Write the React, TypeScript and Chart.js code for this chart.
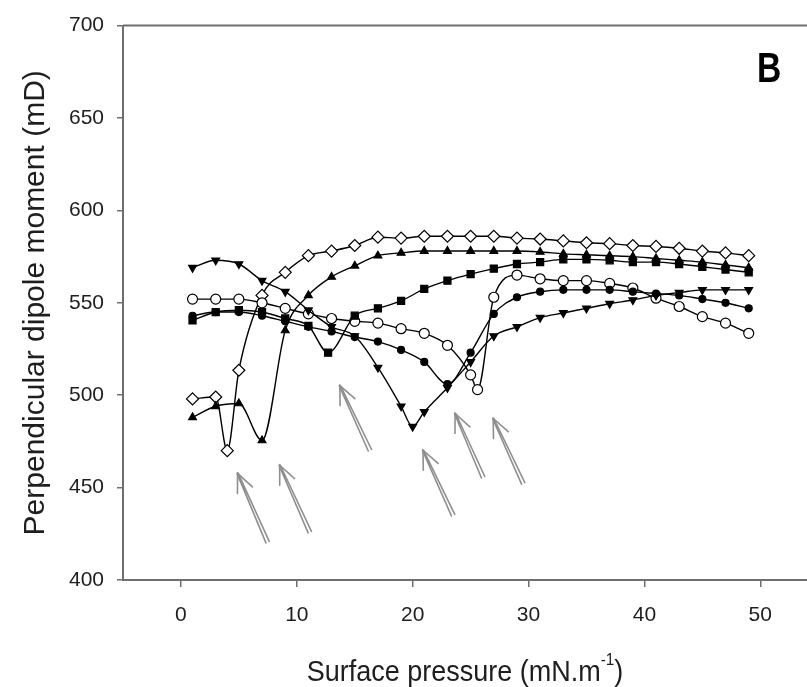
import React, { useEffect, useRef } from 'react';
import { Chart, registerables } from 'chart.js';

Chart.register(...registerables);

// ---- axes ----
const xMin = -5;
const xMax = 54.1;
const yMin = 400;
const yMax = 700;
const yStep = 50;
const xTickValues = [0, 10, 20, 30, 40, 50];

const xTitle = 'Surface pressure (mN.m';
const xTitleSup = '-1';
const xTitleEnd = ')';
const yTitle = 'Perpendicular dipole moment (mD)';
const panelLabel = 'B';

// ---- series (surface pressure, dipole moment) ----
const diamondX = [1, 3, 4, 5, 7, 9, 11, 13, 15, 17, 19, 21, 23, 25, 27, 29, 31, 33, 35, 37, 39, 41, 43, 45, 47, 49];
const diamondY = [498, 499, 470, 513.5, 554, 566.5, 575.5, 578, 581, 585.5, 585, 586, 586, 586, 586, 585, 584.5, 583.5, 582.5, 582, 581, 580.5, 579.5, 578, 577, 575.5];

const triUpX = [1, 3, 5, 7, 9, 11, 13, 15, 17, 19, 21, 23, 25, 27, 29, 31, 33, 35, 37, 39, 41, 43, 45, 47, 49];
const triUpY = [488, 494, 495.5, 475.5, 535, 554, 564, 570, 575.5, 577, 578, 578, 578, 578, 578, 577.5, 576.5, 576, 575.5, 575, 574, 573, 572, 570.5, 569];

const squareX = [1, 3, 5, 7, 9, 11, 12.7, 15, 17, 19, 21, 23, 25, 27, 29, 31, 33, 35, 37, 39, 41, 43, 45, 47, 49];
const squareY = [540.5, 545, 546, 545, 541.5, 537.5, 523, 543, 547, 551, 557.5, 562, 565.5, 568.5, 571, 572, 573.5, 573.5, 573, 572, 572, 571, 569.5, 568, 566.5];

const triDownX = [1, 3, 5, 7, 9, 11, 13, 15, 17, 19, 20, 21, 23, 25, 27, 29, 31, 33, 35, 37, 39, 41, 43, 45, 47, 49];
const triDownY = [569, 573, 571, 562, 556, 546, 537, 532, 515, 494, 483, 491, 504, 518, 532, 537, 542, 544.5, 547, 549.5, 551.5, 554, 555.5, 557, 557, 557];

const dotX = [1, 3, 5, 7, 9, 11, 13, 15, 17, 19, 21, 23, 25, 27, 29, 31, 33, 35, 37, 39, 41, 43, 45, 47, 49];
const dotY = [543, 545, 545, 543, 540, 537, 534.5, 531.5, 529, 524.5, 518, 506, 523, 544, 553, 556, 557, 557, 557, 556, 555, 554, 552, 550, 547];

const ringX = [1, 3, 5, 7, 9, 11, 13, 15, 17, 19, 21, 23, 25, 25.6, 27, 29, 31, 33, 35, 37, 39, 41, 43, 45, 47, 49];
const ringY = [552, 552, 552, 550, 547, 544, 541.5, 540, 539, 536, 533.5, 527, 511, 503, 553, 565, 563, 562, 562, 560.5, 558, 552.5, 548, 542.5, 539, 533.5];

// ---- transition arrows (tail -> head, data units) ----
const arrowTailX = [7.48, 11.12, 16.31, 23.49, 26.08, 29.54];
const arrowTailY = [420.5, 425.9, 470.2, 435.1, 455.6, 452.3];
const arrowHeadX = [4.89, 8.52, 13.71, 20.89, 23.66, 26.95];
const arrowHeadY = [457.7, 462.1, 505.2, 470.2, 490.1, 487.4];

const FONT = '"Liberation Sans", Arial, Helvetica, sans-serif';
const AXIS_COLOR = '#6e6e6e';
const TEXT_COLOR = '#1e1e1e';
const CANVAS_W = 815;
const CANVAS_H = 687;

const toPoints = (xs: number[], ys: number[]) => xs.map((x, i) => ({ x, y: ys[i] }));

const decorPlugin = {
  id: 'decor',
  afterDatasetsDraw(chart: any) {
    const { ctx, chartArea, scales } = chart;
    const xs = scales.x;
    const ys = scales.y;
    ctx.save();
    // top frame line
    ctx.strokeStyle = AXIS_COLOR;
    ctx.lineWidth = 2;
    ctx.beginPath();
    ctx.moveTo(chartArea.left, chartArea.top);
    ctx.lineTo(CANVAS_W, chartArea.top);
    ctx.stroke();

    // arrows
    ctx.strokeStyle = '#8f8f8f';
    ctx.lineWidth = 1.6;
    ctx.lineCap = 'round';
    for (let i = 0; i < arrowTailX.length; i++) {
      const tx = xs.getPixelForValue(arrowTailX[i]);
      const ty = ys.getPixelForValue(arrowTailY[i]);
      const hx = xs.getPixelForValue(arrowHeadX[i]);
      const hy = ys.getPixelForValue(arrowHeadY[i]);
      const ang = Math.atan2(hy - ty, hx - tx);
      const px = -Math.sin(ang);
      const py = Math.cos(ang);
      const off = 1.8;
      ctx.beginPath();
      ctx.moveTo(tx + px * off, ty + py * off);
      ctx.lineTo(hx + px * off * 0.3, hy + py * off * 0.3);
      ctx.moveTo(tx - px * off, ty - py * off);
      ctx.lineTo(hx - px * off * 0.3, hy - py * off * 0.3);
      ctx.stroke();
      const L = 20;
      const a = 0.42;
      ctx.beginPath();
      ctx.moveTo(hx - L * Math.cos(ang - a), hy - L * Math.sin(ang - a));
      ctx.lineTo(hx, hy);
      ctx.lineTo(hx - L * Math.cos(ang + a), hy - L * Math.sin(ang + a));
      ctx.stroke();
    }

    // panel label
    ctx.fillStyle = '#000';
    ctx.font = `bold 42px ${FONT}`;
    ctx.textAlign = 'left';
    ctx.textBaseline = 'alphabetic';
    ctx.save();
    ctx.translate(757, 82);
    ctx.scale(0.8, 1);
    ctx.fillText(panelLabel, 0, 0);
    ctx.restore();
    ctx.restore();
  },
  afterDraw(chart: any) {
    const { ctx, chartArea } = chart;
    ctx.save();
    ctx.fillStyle = TEXT_COLOR;
    // x title with superscript (slightly condensed)
    const sx = 0.9;
    ctx.textBaseline = 'alphabetic';
    ctx.textAlign = 'left';
    ctx.font = `30px ${FONT}`;
    const mainW = ctx.measureText(xTitle).width;
    const endW = ctx.measureText(xTitleEnd).width;
    ctx.font = `17px ${FONT}`;
    const supW = ctx.measureText(xTitleSup).width;
    const total = (mainW + supW + endW) * sx;
    const cx = (chartArea.left + 807) / 2;
    const baseY = 681;
    ctx.save();
    ctx.translate(cx - total / 2, baseY);
    ctx.scale(sx, 1);
    let x0 = 0;
    ctx.font = `30px ${FONT}`;
    ctx.fillText(xTitle, x0, 0);
    x0 += mainW;
    ctx.font = `17px ${FONT}`;
    ctx.fillText(xTitleSup, x0, -16);
    x0 += supW;
    ctx.font = `30px ${FONT}`;
    ctx.fillText(xTitleEnd, x0, 0);
    ctx.restore();

    // y title
    ctx.translate(44, (chartArea.top + chartArea.bottom) / 2);
    ctx.rotate(-Math.PI / 2);
    ctx.textAlign = 'center';
    ctx.font = `30px ${FONT}`;
    ctx.fillText(yTitle, 0, 0);
    ctx.restore();
  },
};

export default function App() {
  const canvasRef = useRef<HTMLCanvasElement | null>(null);

  useEffect(() => {
    const canvas = canvasRef.current;
    if (!canvas) return;
    const line = {
      showLine: true,
      borderColor: '#000',
      borderWidth: 1.4,
      pointBorderColor: '#000',
      pointBorderWidth: 1.2,
      cubicInterpolationMode: 'monotone' as const,
      tension: 0.3,
    };
    const chart = new Chart(canvas, {
      type: 'scatter',
      data: {
        datasets: [
          { ...line, label: 'triangle up', data: toPoints(triUpX, triUpY), pointStyle: 'triangle', pointRadius: 4.5, pointBackgroundColor: '#000' },
          { ...line, label: 'square', data: toPoints(squareX, squareY), pointStyle: 'rect', pointRadius: 5, pointBackgroundColor: '#000' },
          { ...line, label: 'triangle down', data: toPoints(triDownX, triDownY), pointStyle: 'triangle', pointRotation: 180, pointRadius: 4.5, pointBackgroundColor: '#000' },
          { ...line, label: 'circle', data: toPoints(dotX, dotY), pointStyle: 'circle', pointRadius: 3.5, pointBackgroundColor: '#000' },
          { ...line, label: 'open circle', data: toPoints(ringX, ringY), pointStyle: 'circle', pointRadius: 5, pointBackgroundColor: '#fff' },
          { ...line, label: 'open diamond', data: toPoints(diamondX, diamondY), pointStyle: 'rectRot', pointRadius: 6, pointBackgroundColor: '#fff' },
        ],
      },
      options: {
        responsive: false,
        animation: false,
        layout: { padding: { top: 24, left: 0, right: 0, bottom: 0 } },
        plugins: { legend: { display: false }, tooltip: { enabled: false } },
        scales: {
          x: {
            type: 'linear',
            min: xMin,
            max: xMax,
            afterBuildTicks: (scale: any) => {
              scale.ticks = xTickValues.map((v) => ({ value: v }));
            },
            afterFit: (scale: any) => {
              scale.height = 107;
            },
            grid: { drawOnChartArea: false, drawTicks: true, tickLength: 7, color: AXIS_COLOR, lineWidth: 1.5 },
            border: { display: true, color: AXIS_COLOR, width: 2 },
            ticks: { font: { family: FONT, size: 21 }, color: TEXT_COLOR, padding: 16, maxRotation: 0 },
          },
          y: {
            type: 'linear',
            min: yMin,
            max: yMax,
            afterFit: (scale: any) => {
              scale.width = 123;
            },
            grid: { drawOnChartArea: false, drawTicks: true, tickLength: 6, color: AXIS_COLOR, lineWidth: 1.5 },
            border: { display: true, color: AXIS_COLOR, width: 2 },
            ticks: { stepSize: yStep, font: { family: FONT, size: 21 }, color: TEXT_COLOR, padding: 13 },
          },
        },
      },
      plugins: [decorPlugin],
    });
    return () => chart.destroy();
  }, []);

  return (
    <div style={{ position: 'fixed', left: 0, top: 0, width: 807, height: 687, background: '#fff', overflow: 'hidden' }}>
      <canvas ref={canvasRef} width={CANVAS_W} height={CANVAS_H} style={{ display: 'block' }} />
    </div>
  );
}
